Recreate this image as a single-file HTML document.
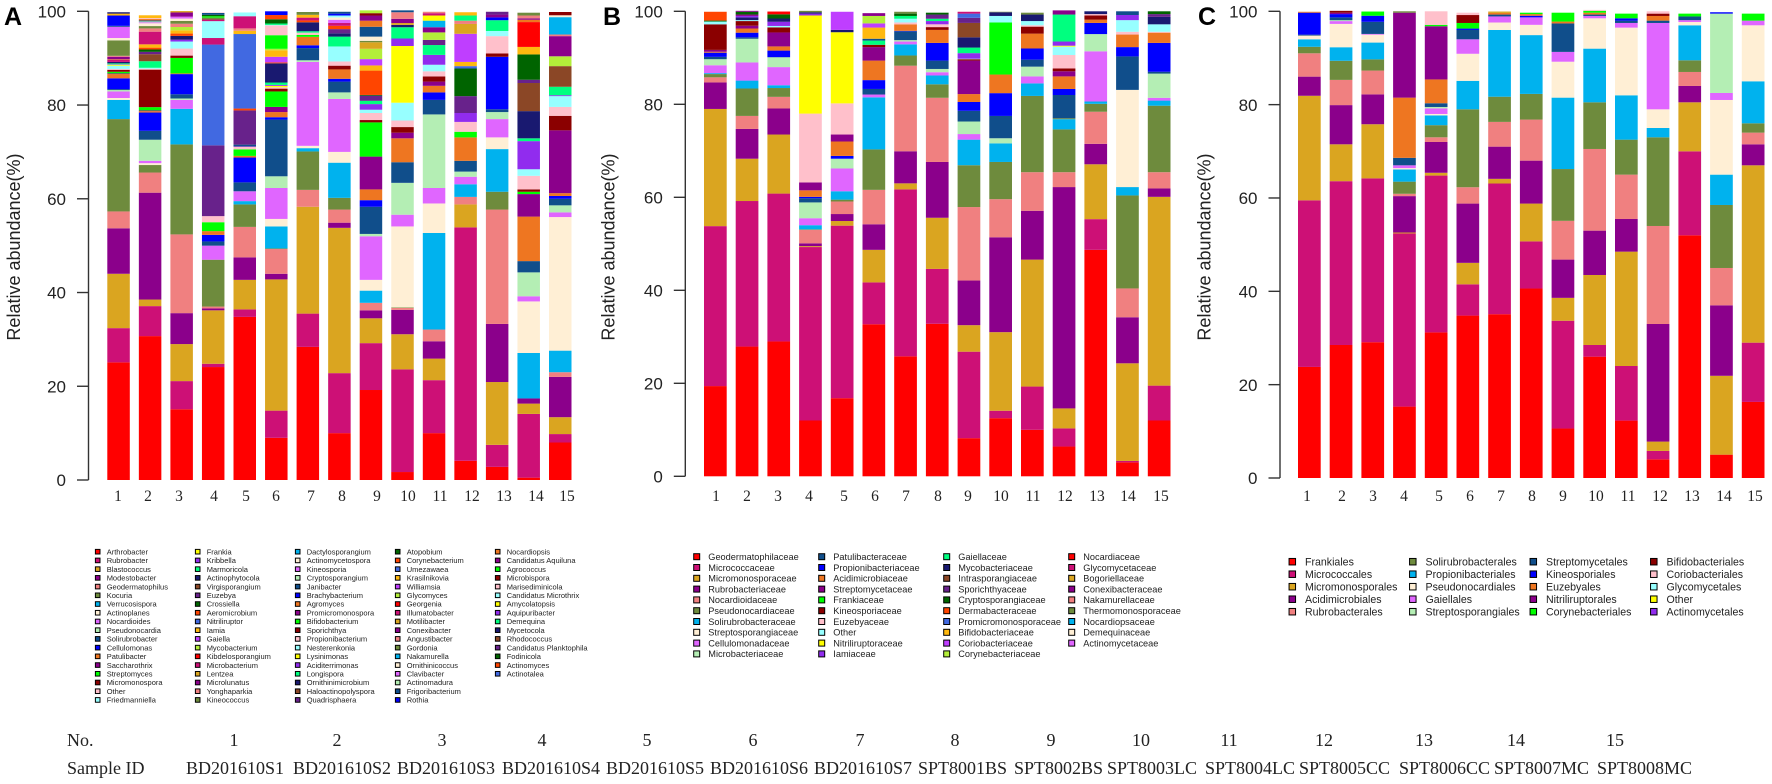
<!DOCTYPE html>
<html lang="en">
<head>
<meta charset="utf-8">
<title>Relative abundance stacked bars</title>
<style>
html,body{margin:0;padding:0;background:#fff;}
svg{display:block;}
.sans{font-family:"Liberation Sans",Arial,sans-serif;}
.serif{font-family:"Liberation Serif","Times New Roman",serif;fill:#222;}
.num{font-size:15.5px;text-anchor:middle;}
.foot{font-size:18px;}
</style>
</head>
<body>
<svg id="chart" width="1772" height="784" viewBox="0 0 1772 784" xmlns="http://www.w3.org/2000/svg">
  <g class="serif num">
    <text x="118" y="501">1</text><text x="148" y="501">2</text><text x="179" y="501">3</text><text x="214" y="501">4</text><text x="246" y="501">5</text><text x="276" y="501">6</text><text x="311" y="501">7</text><text x="342" y="501">8</text><text x="377" y="501">9</text><text x="408" y="501">10</text><text x="440" y="501">11</text><text x="472" y="501">12</text><text x="504" y="501">13</text><text x="536" y="501">14</text><text x="567" y="501">15</text>
  </g>
  <g class="serif num">
    <text x="716" y="501">1</text><text x="747" y="501">2</text><text x="778" y="501">3</text><text x="809" y="501">4</text><text x="844" y="501">5</text><text x="875" y="501">6</text><text x="906" y="501">7</text><text x="938" y="501">8</text><text x="968" y="501">9</text><text x="1001" y="501">10</text><text x="1033" y="501">11</text><text x="1065" y="501">12</text><text x="1097" y="501">13</text><text x="1128" y="501">14</text><text x="1161" y="501">15</text>
  </g>
  <g class="serif num">
    <text x="1307" y="501">1</text><text x="1342" y="501">2</text><text x="1373" y="501">3</text><text x="1404" y="501">4</text><text x="1439" y="501">5</text><text x="1470" y="501">6</text><text x="1501" y="501">7</text><text x="1532" y="501">8</text><text x="1563" y="501">9</text><text x="1596" y="501">10</text><text x="1628" y="501">11</text><text x="1660" y="501">12</text><text x="1692" y="501">13</text><text x="1724" y="501">14</text><text x="1755" y="501">15</text>
  </g>
  <g class="serif foot">
    <text x="67" y="746">No.</text>
    <g text-anchor="middle">
    <text x="234" y="746">1</text><text x="337" y="746">2</text><text x="442" y="746">3</text><text x="542" y="746">4</text><text x="647" y="746">5</text><text x="753" y="746">6</text><text x="860" y="746">7</text><text x="955" y="746">8</text><text x="1051" y="746">9</text><text x="1141" y="746">10</text><text x="1229" y="746">11</text><text x="1324" y="746">12</text><text x="1424" y="746">13</text><text x="1516" y="746">14</text><text x="1615" y="746">15</text>
    </g>
  </g>
  <g class="serif foot">
    <text x="67" y="774">Sample ID</text>
    <text x="186" y="774">BD201610S1</text><text x="293" y="774">BD201610S2</text><text x="397" y="774">BD201610S3</text><text x="502" y="774">BD201610S4</text><text x="606" y="774">BD201610S5</text><text x="710" y="774">BD201610S6</text><text x="814" y="774">BD201610S7</text><text x="918" y="774">SPT8001BS</text><text x="1014" y="774">SPT8002BS</text><text x="1107" y="774">SPT8003LC</text><text x="1205" y="774">SPT8004LC</text><text x="1299" y="774">SPT8005CC</text><text x="1399" y="774">SPT8006CC</text><text x="1494" y="774">SPT8007MC</text><text x="1597" y="774">SPT8008MC</text>
  </g>
</svg>
<script>
const groupColors = ["#FF0000","#CD1076","#DAA520","#8B008B","#F08080","#6E8B3D","#00B2EE","#FFEFD5","#E066FF","#B4EEB4","#104E8B","#0000FF","#EE7621","#8B008B","#00FF00","#8B0000","#FFC0CB","#97FFFF","#FFFF00","#912CEE","#00FF7F","#191970","#8B4726","#68228B","#006400","#FF4500","#4169E1","#FFB90F","#BF3EFF","#B3EE3A"];
const yTicks = [0,20,40,60,80,100];

const panelATaxa = [
[0,1,2,3,4,5,6,7,8,9,10,11,12,13,14,15,16,17,18,19,20,21,1,2,3,4,5,7,8,10,11,27,21],
[0,1,2,3,4,5,7,8,9,10,11,12,13,14,15,16,17,20,22,23,24,25,27,1,4,5,7,8,9,10,12,16,27],
[0,1,2,3,4,5,6,8,9,10,11,12,14,15,16,17,19,21,25,27,29,4,5,7,8,3,2],
[0,1,2,3,4,5,8,10,11,12,14,16,23,26,1,17,1,5,14,24,10,16],
[0,1,2,3,4,5,6,8,10,11,12,14,16,8,10,23,25,26,27,4,1,17],
[0,1,2,3,4,5,6,7,8,9,10,11,12,13,14,15,16,18,19,20,21,25,28,27,29,14,16,17,20,24,25,11],
[0,1,2,4,5,6,7,8,9,10,11,12,14,16,20,21,25,1,27,5],
[0,1,2,3,4,5,6,7,8,9,10,11,12,15,16,17,20,21,23,25,1,8,7,17,11,10],
[0,1,2,3,4,6,7,8,9,10,11,12,13,14,15,16,17,19,20,23,24,25,27,28,29,2,5,7,10,12,3,15,29],
[0,1,2,3,4,5,7,8,9,10,12,13,15,16,17,18,19,20,21,2,3,4,10],
[0,1,2,3,4,6,7,8,9,10,11,12,13,15,16,17,19,20,23,29,3,6,18,1,4],
[0,1,2,4,6,8,9,10,12,14,16,19,23,24,26,27,28,2,4,20,27],
[0,1,2,3,4,5,6,7,8,9,10,11,15,16,17,20,11,3,23],
[0,1,2,3,6,7,8,9,10,12,13,14,15,16,17,19,20,21,22,23,24,27,0,12,3,4,5],
[0,1,2,3,4,6,7,8,9,10,11,12,13,15,16,17,19,20,22,29,3,4,6,7,15]
];
const panelAValues = [
[25.1,7.3,11.6,9.7,3.6,19.7,4.1,.4,1.4,.3,.2,2.3,.9,.15,.35,.4,.2,.7,.2,.1,.2,.3,.5,.1,.5,.2,3.3,.5,2.4,.2,2.2,.4,.3],
[30.7,6.4,1.4,22.8,4.3,1.6,.4,.5,4.5,1.9,3.9,.3,.15,.7,8,.2,.2,1.4,1.5,.5,.5,.4,.7,2.7,.7,.5,.6,.2,.2,.2,.3,.2,.6],
[15.1,6,7.9,6.6,16.8,19.2,7.6,1.9,.3,.9,4.3,.15,3.3,.5,1.5,1.5,.4,.8,.5,.7,.7,.7,.6,.5,.4,.9,.3],
[24.1,.7,11.4,.4,.4,10,3,.9,1.4,.8,1.9,1.3,15.1,21.5,1.4,3.6,.35,.4,.3,.3,.4,.1],
[34.8,1.6,6.3,4.8,6.5,4.8,.7,2.1,1.9,5.3,.35,1.4,.5,.1,.4,7.3,.4,15.9,.7,.5,2.6,.8],
[9,5.8,28,1.2,5.3,.1,4.7,1.6,6.6,2.5,12.1,.5,1.1,1.1,3.3,.6,.3,.3,.2,.5,4.1,.2,1.2,1.4,.3,2.9,2.1,.1,.3,.9,.9,.8],
[28.4,7.1,22.8,3.6,8.2,.7,.5,17.9,.35,2.6,.6,1.8,.4,.5,.3,1.9,.4,.6,.6,.6],
[10,12.8,31,1.1,2.8,2.5,7.5,2.3,11.3,1.4,2.3,.6,2,.8,.9,3.2,2.1,.7,.9,.7,.6,.7,.5,.4,.4,.4],
[19.2,10,5.3,1.7,1.6,2.6,2.3,9.3,.5,5.8,1.4,2.3,7,7.3,.5,1.5,.7,1.2,.7,1.1,.15,5.2,1.1,1.35,2.2,1.4,.3,.9,2.1,1.3,1.1,.5,.6],
[1.7,21.9,7.5,5.2,.4,.1,17.3,2.5,6.8,4.4,5.1,1.2,1.2,1.4,3.8,12.1,1.6,2.4,.5,.4,.9,1.4,.4],
[10,11.3,4.6,3.7,2.5,20.6,6.3,3.3,15.7,3.1,1.6,1.4,.9,1.1,1.1,1.4,2.1,2.1,1.1,1.6,1.1,1.4,1.1,.5,.3],
[4.1,49.8,4.9,1.6,2.7,1.6,1.1,2.3,5,1.2,2.1,1.9,3.6,5.9,.5,.9,6,2.1,.7,1.1,.7],
[2.8,4.7,13.4,12.4,24.4,3.8,9.1,2.5,3.9,1.5,.6,11.2,.7,3.7,1.1,2.3,.6,.6,.6],
[.5,13.6,2.2,1.1,9.7,11,1.1,5.1,2.4,9.5,4.8,.5,.5,2.9,1.4,6,.6,5.8,6,.7,5.4,1.6,5.3,.5,.3,.6,.6],
[8,1.8,3.6,8.6,1,4.6,28.5,1,1.5,1.4,.6,.6,13.4,3.1,1.9,2.3,.2,1.8,4.4,2.1,4.3,.35,3.7,.4,.7]
];

const panelBTaxa = [
[0,1,2,3,4,5,6,8,9,10,11,12,13,15,17,24,25],
[0,1,2,3,4,5,6,8,9,10,11,12,13,15,17,21,19,13,24,3],
[0,1,2,3,4,5,6,8,9,10,11,12,13,15,17,19,21,24,0],
[0,1,2,3,4,5,6,8,9,10,11,12,13,16,18,19,21,5],
[0,1,2,3,4,5,6,8,9,11,12,13,16,18,21,28],
[0,1,2,3,4,5,6,8,10,11,12,13,15,20,10,27,28,29,3],
[0,1,2,3,4,5,6,8,9,10,11,12,16,17,20,24,5],
[0,1,2,3,4,5,6,8,9,10,11,12,15,16,19,20,23,24],
[0,1,2,3,4,5,6,8,9,10,11,12,13,15,17,19,20,21,22,23,26,1],
[0,1,2,3,4,5,6,9,10,11,12,14,17,21,5],
[0,1,2,3,4,5,6,8,9,10,11,12,15,16,17,21,5],
[0,1,2,3,4,5,6,5,10,11,12,13,15,16,17,18,19,20,3],
[0,1,2,3,4,5,6,8,9,11,12,15,16,21],
[0,1,2,3,4,5,6,7,10,11,12,16,17,19,10],
[0,1,2,3,4,5,6,8,9,10,11,12,16,17,21,23,24]
];
const panelBValues = [
[19.4,34.4,25.2,5.7,1.1,.7,.2,1.7,1.3,.5,.9,.2,.4,5.5,.6,.2,1.9],
[27.9,31.3,9.1,6.4,2.8,5.9,1.7,3.9,5.1,.3,1,.9,.6,1,.2,.6,.3,.3,.6,.2],
[29,31.8,12.7,5.6,2.5,1.9,.6,3.9,2.1,.05,1.4,.9,3,1.1,.3,.9,.7,.9,.6],
[12,37.3,.2,.6,2.9,.1,.9,1.5,3.4,.9,.3,1.4,1.7,14.8,21.1,.4,.3,.3],
[16.8,37.1,1,1.5,2.7,.4,1.8,4.9,2.1,.6,3.1,1.5,6.7,15.3,.5,3.9],
[32.7,9,7,5.5,7.4,8.7,11.2,.6,1.2,1.9,4.2,2.9,.5,.9,.4,2.4,.9,1.6,.6],
[25.8,35.9,1.3,6.9,18.4,2.2,2.4,.6,.3,1.9,.1,1.4,.4,.8,.6,.5,.4],
[32.8,11.8,11,12,13.8,2.9,1.9,.7,.7,1.8,3.8,2.8,.6,.6,.7,.5,.9,.4],
[8.2,18.6,5.7,9.6,15.8,9,5.5,1.2,2.7,2.3,1.9,1.7,7.2,.3,.1,1.2,1.2,2.2,3.1,1.1,.9,.4],
[12.5,1.6,16.9,20.4,8.2,8,4,1.1,4.8,4.9,4,11.2,1.4,.8,.1],
[10,9.3,27.3,10.5,8.3,16.4,2.7,1.5,2.1,1.5,2.4,3.2,1.5,.3,.9,1.4,.4],
[6.4,3.9,4.3,47.6,3.2,9.2,2.2,.2,5,1.3,2.7,1.1,.6,2.9,1.8,.2,.9,5.8,.9],
[48.7,6.6,11.8,4.4,6.9,1.7,.5,10.8,3.7,2.4,.7,.9,.3,.6],
[3,.3,21,9.9,6.2,20,1.8,20.9,7.2,2,2.7,.6,2.5,1.1,.8],
[12,7.5,40.6,1.8,3.5,14.3,1.1,.6,5.2,.4,6.2,2.2,.2,1.6,1.6,.6,.6]
];

const panelCTaxa = [
[0,1,2,3,4,5,6,7,10,11,12],
[0,1,2,3,4,5,6,7,8,9,10,11,13,15],
[0,1,2,3,4,5,6,7,8,10,11,14],
[0,1,2,3,4,5,6,7,8,10,12,13,5],
[0,1,2,3,4,5,6,7,8,9,10,12,13,14,16],
[0,1,2,3,4,5,6,7,8,10,11,14,15,16],
[0,1,2,3,4,5,6,7,8,10,12,2],
[0,1,2,3,4,5,6,7,8,11,12,14],
[0,1,2,3,4,5,6,7,8,10,12,14],
[0,1,2,3,4,5,6,7,8,10,12,14,16],
[0,1,2,3,4,5,6,7,8,10,11,14],
[0,1,2,3,4,5,6,7,8,10,12,15,16],
[0,1,2,3,4,5,6,7,8,10,14],
[0,2,3,4,5,6,7,8,9,11],
[0,1,2,3,4,5,6,7,8,14]
];
const panelCValues = [
[23.8,35.7,22.4,4.1,5,1.4,1.6,.8,.2,4.7,.2],
[28.5,35.1,7.9,8.4,5.4,4.1,2.9,5,.6,.2,.6,.7,.3,.4],
[29.1,35.1,11.6,6.4,5.1,2.4,3.6,1.7,.15,2.6,1.3,.9],
[15.3,37.1,.2,7.8,.5,2.6,2.6,.3,.6,1.6,12.9,18.2,.3],
[31.2,33.6,.6,6.6,1,2.6,2.1,.3,1.2,.3,.8,5.1,11.4,.3,2.9],
[34.8,6.7,4.6,12.7,3.5,16.7,6.1,5.8,3.1,2,.3,1.2,1.7,.5],
[35.1,28,1,6.9,5.3,5.4,14.3,1.6,1.3,.4,.35,.3],
[40.6,10.1,8.1,9.2,8.8,5.5,12.6,2.2,1.6,.35,.35,.3],
[10.6,23.1,4.9,8.2,8.3,11.1,15.3,7.7,2.1,6.1,.4,1.9],
[26,2.5,15,9.5,17.5,10,11.5,6.5,.5,.3,.4,.4,.2],
[12.3,11.7,24.5,7,9.5,7.5,9.5,14.5,1,.5,.5,1],
[4,1.8,2,25.2,21,19,2,4,18.5,.5,1,.5,.5],
[52,18,10.5,3.5,3,2.5,7.5,.7,.4,.8,.6],
[5,16.9,15.1,8,13.5,6.5,16,1.5,17,.3],
[16.3,12.7,38,4.5,2.5,2,9,12,1,1.5]
];

const legendANames = ["Arthrobacter","Rubrobacter","Blastococcus","Modestobacter","Geodermatophilus","Kocuria","Verrucosispora","Actinoplanes","Nocardioides","Pseudonocardia","Solirubrobacter","Cellulomonas","Patulibacter","Saccharothrix","Streptomyces","Micromonospora","Other","Friedmanniella","Frankia","Kribbella","Marmoricola","Actinophytocola","Virgisporangium","Euzebya","Crossiella","Aeromicrobium","Nitriliruptor","Iamia","Gaiella","Mycobacterium","Kibdelosporangium","Microbacterium","Lentzea","Microlunatus","Yonghaparkia","Kineococcus","Dactylosporangium","Actinomycetospora","Kineosporia","Cryptosporangium","Janibacter","Brachybacterium","Agromyces","Promicromonospora","Bifidobacterium","Sporichthya","Propionibacterium","Nesterenkonia","Lysinimonas","Aciditerrimonas","Longispora","Ornithinimicrobium","Haloactinopolyspora","Quadrisphaera","Atopobium","Corynebacterium","Umezawaea","Krasilnikovia","Williamsia","Glycomyces","Georgenia","Illumatobacter","Motilibacter","Conexibacter","Angustibacter","Gordonia","Nakamurella","Ornithinicoccus","Clavibacter","Actinomadura","Frigoribacterium","Rothia","Nocardiopsis","Candidatus Aquiluna","Agrococcus","Microbispora","Marisediminicola","Candidatus Microthrix","Amycolatopsis","Aquipuribacter","Demequina","Mycetocola","Rhodococcus","Candidatus Planktophila","Fodinicola","Actinomyces","Actinotalea"];
const legendBNames = ["Geodermatophilaceae","Micrococcaceae","Micromonosporaceae","Rubrobacteriaceae","Nocardioidaceae","Pseudonocardiaceae","Solirubrobacteraceae","Streptosporangiaceae","Cellulomonadaceae","Microbacteriaceae","Patulibacteraceae","Propionibacteriaceae","Acidimicrobiaceae","Streptomycetaceae","Frankiaceae","Kineosporiaceae","Euzebyaceae","Other","Nitriliruptoraceae","Iamiaceae","Gaiellaceae","Mycobacteriaceae","Intrasporangiaceae","Sporichthyaceae","Cryptosporangiaceae","Dermabacteraceae","Promicromonosporaceae","Bifidobacteriaceae","Coriobacteriaceae","Corynebacteriaceae","Nocardiaceae","Glycomycetaceae","Bogoriellaceae","Conexibacteraceae","Nakamurellaceae","Thermomonosporaceae","Nocardiopsaceae","Demequinaceae","Actinomycetaceae"];
const legendCNames = ["Frankiales","Micrococcales","Micromonosporales","Acidimicrobiales","Rubrobacterales","Solirubrobacterales","Propionibacteriales","Pseudonocardiales","Gaiellales","Streptosporangiales","Streptomycetales","Kineosporiales","Euzebyales","Nitriliruptorales","Corynebacteriales","Bifidobacteriales","Coriobacteriales","Glycomycetales","Other","Actinomycetales"];

const NS = "http://www.w3.org/2000/svg";
const root = document.getElementById("chart");

function drawPanel(name, letter, axisX, y100, y0, firstLeft, pitch, barW, letterX, titleX, taxa, values) {
  const g = document.createElementNS(NS, "g");
  
  
  root.appendChild(g);
  const yScale = function (v) { return y0 - v * (y0 - y100) / 100; };
  const xBand = function (i) { return firstLeft + pitch * i; };

  values.forEach(function (stack, i) {
    const bar = document.createElementNS(NS, "g");
    
    
    g.appendChild(bar);
    let cum = 0;
    stack.forEach(function (v, k) {
      const rect = document.createElementNS(NS, "rect");
      
      
      rect.setAttribute("x", xBand(i));
      rect.setAttribute("width", barW);
      rect.setAttribute("y", yScale(cum + v));
      rect.setAttribute("height", Math.max(0, yScale(cum) - yScale(cum + v)));
      rect.setAttribute("fill", groupColors[taxa[i][k] % groupColors.length]);
      bar.appendChild(rect);
      cum += v;
    });
  });

  const axis = document.createElementNS(NS, "line");
  
  
  axis.setAttribute("x1", axisX);
  axis.setAttribute("x2", axisX);
  axis.setAttribute("y1", yScale(100));
  axis.setAttribute("y2", yScale(0));
  axis.setAttribute("stroke", "#333");
  axis.setAttribute("stroke-width", "1.4");
  g.appendChild(axis);

  yTicks.forEach(function (t) {
    const tick = document.createElementNS(NS, "line");
    
    
    tick.setAttribute("x1", axisX - 11.5);
    tick.setAttribute("x2", axisX);
    tick.setAttribute("y1", yScale(t));
    tick.setAttribute("y2", yScale(t));
    tick.setAttribute("stroke", "#333");
    tick.setAttribute("stroke-width", "1.4");
    g.appendChild(tick);
    const label = document.createElementNS(NS, "text");
    
    
    label.setAttribute("x", axisX - 22.5);
    label.setAttribute("y", yScale(t) + 6.2);
    label.setAttribute("text-anchor", "end");
    label.setAttribute("class", "sans");
    label.setAttribute("font-size", "17");
    label.setAttribute("fill", "#222");
    label.textContent = String(t);
    g.appendChild(label);
  });

  const title = document.createElementNS(NS, "text");
  
  
  title.setAttribute("class", "sans");
  title.setAttribute("font-size", "18");
  title.setAttribute("fill", "#222");
  title.setAttribute("text-anchor", "middle");
  title.setAttribute("transform", "translate(" + titleX + ",247) rotate(-90)");
  title.textContent = "Relative abundance(%)";
  g.appendChild(title);

  const tag = document.createElementNS(NS, "text");
  
  
  tag.setAttribute("class", "sans");
  tag.setAttribute("font-size", "25");
  tag.setAttribute("font-weight", "bold");
  tag.setAttribute("fill", "#000");
  tag.setAttribute("x", letterX);
  tag.setAttribute("y", 25);
  tag.textContent = letter;
  g.appendChild(tag);
}

function drawLegend(name, names, rowsPerCol, swatchX, colStep, textGap, firstY, rowStep, fontSize, swatchSize) {
  const g = document.createElementNS(NS, "g");
  
  
  root.appendChild(g);
  names.forEach(function (n, i) {
    const col = Math.floor(i / rowsPerCol);
    const row = i % rowsPerCol;
    const cx = swatchX + col * colStep;
    const cy = firstY + row * rowStep;
    const sw = document.createElementNS(NS, "rect");
    
    
    sw.setAttribute("x", cx - swatchSize / 2);
    sw.setAttribute("y", cy - swatchSize / 2);
    sw.setAttribute("width", swatchSize);
    sw.setAttribute("height", swatchSize);
    sw.setAttribute("fill", groupColors[i % groupColors.length]);
    sw.setAttribute("stroke", "#000");
    sw.setAttribute("stroke-width", "1");
    g.appendChild(sw);
    const t = document.createElementNS(NS, "text");
    
    
    t.setAttribute("class", "sans");
    t.setAttribute("x", cx + textGap);
    t.setAttribute("y", cy + fontSize * 0.36);
    t.setAttribute("font-size", fontSize);
    t.setAttribute("fill", "#222");
    t.textContent = n;
    g.appendChild(t);
  });
}

drawPanel("a", "A", 88.5, 11.3, 480, 107.3, 31.55, 22.5, 4, 20, panelATaxa, panelAValues);
drawPanel("b", "B", 685.3, 11.3, 476.3, 704, 31.7, 22.7, 603, 614.3, panelBTaxa, panelBValues);
drawPanel("c", "C", 1280, 11.3, 478, 1298, 31.7, 22.7, 1198, 1210.5, panelCTaxa, panelCValues);

drawLegend("a", legendANames, 18, 97.7, 100, 9, 551.7, 8.72, 7.5, 4.6);
drawLegend("b", legendBNames, 10, 696.7, 125, 11.6, 556.7, 10.8, 9.2, 6);
drawLegend("c", legendCNames, 5, 1292.3, 120.5, 12.7, 561.7, 12.5, 10.6, 6.5);
</script>
</body>
</html>
